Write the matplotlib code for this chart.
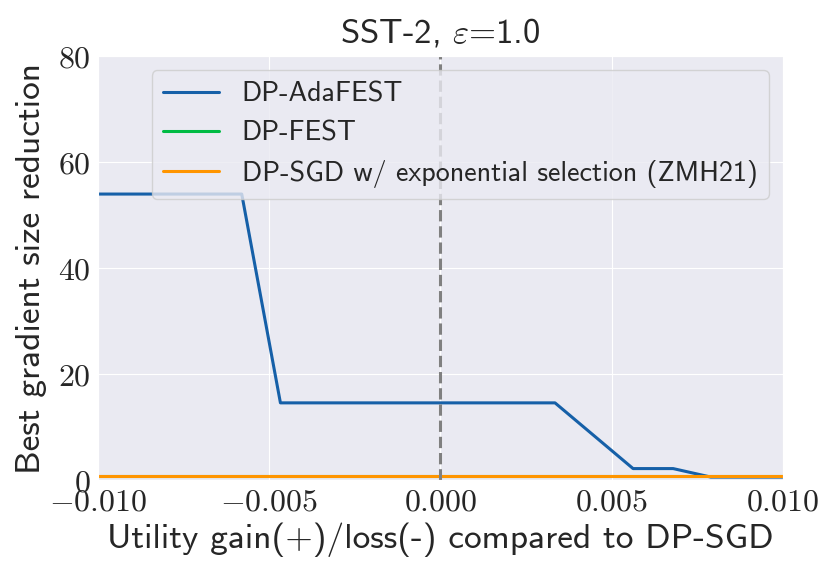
import matplotlib
matplotlib.use("Agg")
import matplotlib.pyplot as plt
import seaborn as sns
from matplotlib.ticker import FuncFormatter, MultipleLocator

# Data
ada_x = [-0.010, -0.0058, -0.00467, 0.00335, 0.00563, 0.0068, 0.0079, 0.010]
ada_y = [54.0, 54.0, 14.6, 14.6, 2.2, 2.2, 0.6, 0.6]
fest_x = [-0.010, 0.010]
fest_y = [0.8, 0.8]
zmh_x = [-0.010, 0.010]
zmh_y = [0.8, 0.8]
labels = ["DP-AdaFEST", "DP-FEST", "DP-SGD w/ exponential selection (ZMH21)"]
colors = ["#1660A8", "#00BB44", "#FF9500"]

sns.set_style("darkgrid")
plt.rcParams['font.family'] = ['cmss10', 'DejaVu Sans']
plt.rcParams['mathtext.fontset'] = 'cm'
plt.rcParams['axes.unicode_minus'] = False

fig = plt.figure(figsize=(8.3, 5.8), dpi=100)
ax = fig.add_axes([0.118, 0.172, 0.825, 0.731])

lw = 2.2
ax.plot(ada_x, ada_y, color=colors[0], lw=lw, label=labels[0])
ax.plot(fest_x, fest_y, color=colors[1], lw=lw, label=labels[1])
ax.plot(zmh_x, zmh_y, color=colors[2], lw=lw, label=labels[2])
ax.axvline(0.0, color="grey", ls="--", lw=2.2)

ax.set_xlim(-0.010, 0.010)
ax.set_ylim(0, 80)
ax.xaxis.set_major_locator(MultipleLocator(0.005))
ax.yaxis.set_major_locator(MultipleLocator(20))
ax.xaxis.set_major_formatter(FuncFormatter(lambda v, p: r"$%.3f$" % v if abs(v) > 1e-12 else r"$0.000$"))
ax.yaxis.set_major_formatter(FuncFormatter(lambda v, p: r"$%d$" % round(v)))
ax.tick_params(labelsize=23, pad=2)

ax.set_title(r"SST-2, $\varepsilon$=1.0", fontsize=25, pad=10)
ax.set_xlabel("Utility gain(+)/loss(-) compared to DP-SGD", fontsize=25.5, labelpad=4)
ax.set_ylabel("Best gradient size reduction", fontsize=25.5, labelpad=8)

ax.legend(loc="upper right", fontsize=20.2, handlelength=2.0)

fig.savefig("out.png", dpi=100)
